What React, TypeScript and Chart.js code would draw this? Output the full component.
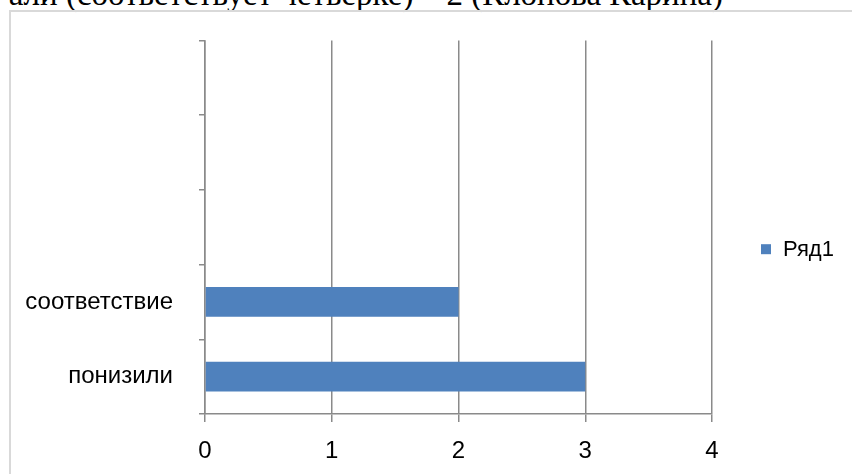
import React, { useEffect, useRef } from "react";
import { Chart, registerables } from "chart.js";

Chart.register(...registerables);

const categories: string[] = ["понизили", "соответствие", "", "", ""];
const seriesName = "Ряд1";
const seriesValues: (number | null)[] = [3, 2, null, null, null];
const xTicks: number[] = [0, 1, 2, 3, 4];
const headingText = "али (соответствует четверке) – 2 (Клопова Карина)";

const BAR_COLOR = "#4F81BD";
const LINE_COLOR = "#8a8a8a";
const FONT = "'Liberation Sans', Arial, sans-serif";

const legendPlugin = {
  id: "sideLegend",
  afterDraw(chart: any) {
    const { ctx, chartArea } = chart;
    const ds = chart.data.datasets[0];
    const cx = chartArea.right + 49;
    const cy = (chartArea.top + chartArea.bottom) / 2 + 22;
    ctx.save();
    ctx.fillStyle = ds.backgroundColor;
    ctx.fillRect(cx, cy - 5, 10, 10);
    ctx.fillStyle = "#000";
    ctx.font = `22px ${FONT}`;
    ctx.textBaseline = "middle";
    ctx.textAlign = "left";
    ctx.fillText(ds.label, cx + 22, cy + 1);
    ctx.restore();
  },
};

export default function App() {
  const ref = useRef<HTMLCanvasElement | null>(null);

  useEffect(() => {
    if (!ref.current) return;
    const chart = new Chart(ref.current, {
      type: "bar",
      data: {
        labels: categories,
        datasets: [
          {
            label: seriesName,
            data: seriesValues,
            backgroundColor: BAR_COLOR,
            borderWidth: 0,
            categoryPercentage: 1,
            barPercentage: 0.4,
          },
        ],
      },
      options: {
        indexAxis: "y",
        responsive: false,
        animation: false,
        devicePixelRatio: 1,
        layout: { padding: { left: 0, right: 140, top: 40, bottom: 0 } },
        plugins: {
          legend: { display: false },
          tooltip: { enabled: false },
          title: { display: false },
        },
        scales: {
          x: {
            type: "linear",
            min: xTicks[0],
            max: xTicks[xTicks.length - 1],
            afterBuildTicks: (scale: any) => {
              scale.ticks = xTicks.map((v) => ({ value: v }));
            },
            afterFit: (scale: any) => {
              scale.height = 60;
            },
            ticks: {
              stepSize: 1,
              color: "#000",
              padding: 15,
              font: { family: FONT, size: 24 },
            },
            grid: {
              color: LINE_COLOR,
              lineWidth: 1.5,
              drawTicks: true,
              tickLength: 8,
            },
            border: { display: true, color: LINE_COLOR, width: 1.5 },
          },
          y: {
            type: "category",
            reverse: true,
            afterFit: (scale: any) => {
              scale.width = 205;
            },
            ticks: {
              color: "#000",
              padding: 26,
              font: { family: FONT, size: 24 },
            },
            grid: {
              offset: true,
              drawOnChartArea: false,
              drawTicks: true,
              tickLength: 6,
              color: LINE_COLOR,
              lineWidth: 1.5,
            },
            border: { display: true, color: LINE_COLOR, width: 1.5 },
          },
        },
      },
      plugins: [legendPlugin],
    });
    return () => chart.destroy();
  }, []);

  return (
    <div
      style={{
        position: "fixed",
        left: 0,
        top: 0,
        width: 852,
        height: 474,
        overflow: "hidden",
        background: "#fff",
      }}
    >
      <div
        style={{
          position: "absolute",
          right: 129,
          top: -22,
          whiteSpace: "nowrap",
          fontFamily: "'Liberation Serif', 'Times New Roman', serif",
          fontSize: 33,
          lineHeight: 1,
          color: "#000",
        }}
      >
        {headingText}
      </div>
      <div
        style={{
          position: "absolute",
          left: 9,
          top: 10,
          width: 1000,
          height: 1000,
          border: "2px solid #d9d9d9",
          boxSizing: "border-box",
          background: "transparent",
        }}
      />
      <canvas
        ref={ref}
        width={852}
        height={474}
        style={{ position: "absolute", left: 0, top: 0 }}
      />
    </div>
  );
}
